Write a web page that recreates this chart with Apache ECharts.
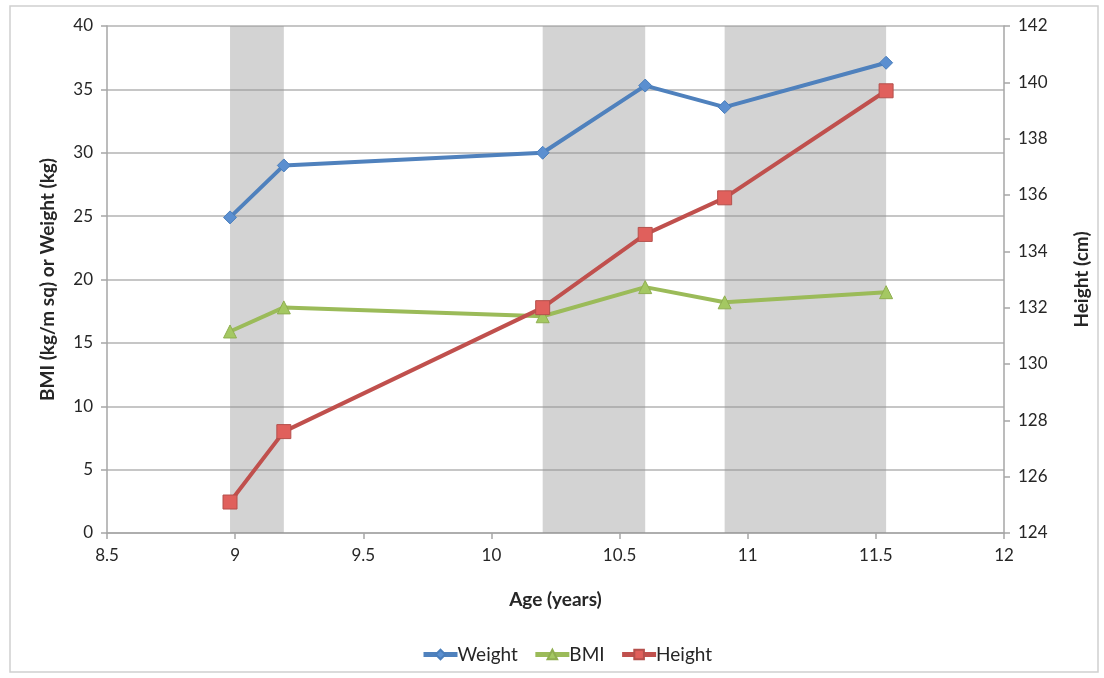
<!DOCTYPE html>
<html>
<head>
<meta charset="utf-8">
<script src="https://cdn.jsdelivr.net/npm/echarts@6/dist/echarts.min.js"></script>
<style>
  html, body { margin: 0; padding: 0; background: #fff; }
  #chart { width: 1104px; height: 678px; }
</style>
</head>
<body>
<div id="chart"></div>
<script>
// Ages at each measurement (years)
const ages = [8.98, 9.19, 10.2, 10.6, 10.91, 11.54];
// Measurements at each age
const weight = [24.9, 29.0, 30.0, 35.3, 33.6, 37.1];
const bmi = [15.9, 17.8, 17.1, 19.4, 18.2, 19.0];
const height = [125.1, 127.6, 132.0, 134.6, 135.9, 139.7];
// Shaded age ranges (index pairs into ages)
const bands = [[0, 1], [2, 3], [4, 5]];
// Axis ranges
const xRange = { min: 8.5, max: 12, step: 0.5 };
const leftRange = { min: 0, max: 40, step: 5 };
const rightRange = { min: 124, max: 142, step: 2 };

const FONT = 'Lato, "Open Sans", sans-serif';
const axisColor = '#a6a6a6';
const textColor = '#262626';

const pairs = (ys) => ages.map((a, i) => [a, ys[i]]);

const chart = echarts.init(document.getElementById('chart'));
chart.setOption({
  animation: false,
  textStyle: { fontFamily: FONT },
  graphic: [{
    type: 'rect',
    shape: { x: 10, y: 6, width: 1088, height: 666 },
    style: { fill: 'none', stroke: '#d0d0d0', lineWidth: 1.5 },
    silent: true, z: -10
  }],
  grid: { left: 107, right: 100, top: 26, bottom: 145 },
  legend: {
    top: 640,
    left: 416,
    itemWidth: 34,
    itemHeight: 12,
    itemGap: 15,
    lineStyle: { width: 5 },
    textStyle: { fontSize: 19, color: textColor, fontFamily: FONT, padding: [0, 0, 0, -5] },
    data: ['Weight', 'BMI', 'Height']
  },
  xAxis: {
    type: 'value',
    min: xRange.min, max: xRange.max, interval: xRange.step,
    name: 'Age (years)',
    nameLocation: 'middle',
    nameGap: 57,
    nameTextStyle: { fontSize: 19, fontWeight: 'bold', color: textColor },
    axisLine: { lineStyle: { color: axisColor, width: 1.5 } },
    axisTick: { show: true, length: 6, lineStyle: { color: axisColor, width: 1.5 } },
    axisLabel: { fontSize: 17, color: textColor, margin: 14 },
    splitLine: { show: false }
  },
  yAxis: [{
    type: 'value',
    min: leftRange.min, max: leftRange.max, interval: leftRange.step,
    name: 'BMI (kg/m sq) or Weight (kg)',
    nameLocation: 'middle',
    nameGap: 50,
    nameTextStyle: { fontSize: 19, fontWeight: 'bold', color: textColor },
    axisLine: { show: true, lineStyle: { color: axisColor, width: 1.5 } },
    axisTick: { show: true, length: 6, lineStyle: { color: axisColor, width: 1.5 } },
    axisLabel: { fontSize: 17, color: textColor, margin: 14 },
    splitLine: { show: true, lineStyle: { color: '#b3b3b3', width: 1.5 } }
  }, {
    type: 'value',
    position: 'right',
    min: rightRange.min, max: rightRange.max, interval: rightRange.step,
    name: 'Height (cm)',
    nameLocation: 'middle',
    nameGap: 68,
    nameRotate: 90,
    nameTextStyle: { fontSize: 19, fontWeight: 'bold', color: textColor },
    axisLine: { show: true, lineStyle: { color: axisColor, width: 1.5 } },
    axisTick: { show: true, length: 6, lineStyle: { color: axisColor, width: 1.5 } },
    axisLabel: { fontSize: 17, color: textColor, margin: 14 },
    splitLine: { show: false }
  }],
  series: [{
    name: 'Weight',
    type: 'line',
    yAxisIndex: 0,
    data: pairs(weight),
    symbol: 'diamond',
    symbolSize: 13,
    lineStyle: { width: 4, color: '#4f81bd' },
    itemStyle: { color: '#5b8fd0', borderColor: '#4a7ebb', borderWidth: 1 },
    z: 4,
    markArea: {
      silent: true,
      itemStyle: { color: 'rgba(150,150,150,0.42)' },
      data: bands.map(([a, b]) => [{ xAxis: ages[a] }, { xAxis: ages[b] }])
    }
  }, {
    name: 'BMI',
    type: 'line',
    yAxisIndex: 0,
    data: pairs(bmi),
    symbol: 'triangle',
    symbolSize: 13,
    lineStyle: { width: 4, color: '#9bbb59' },
    itemStyle: { color: '#a4c862', borderColor: '#8fae50', borderWidth: 1 },
    z: 3
  }, {
    name: 'Height',
    type: 'line',
    yAxisIndex: 1,
    data: pairs(height),
    symbol: 'rect',
    symbolSize: 14,
    lineStyle: { width: 4, color: '#c0504d' },
    itemStyle: { color: '#e0605c', borderColor: '#b5504c', borderWidth: 1 },
    z: 5
  }]
});
</script>
</body>
</html>
